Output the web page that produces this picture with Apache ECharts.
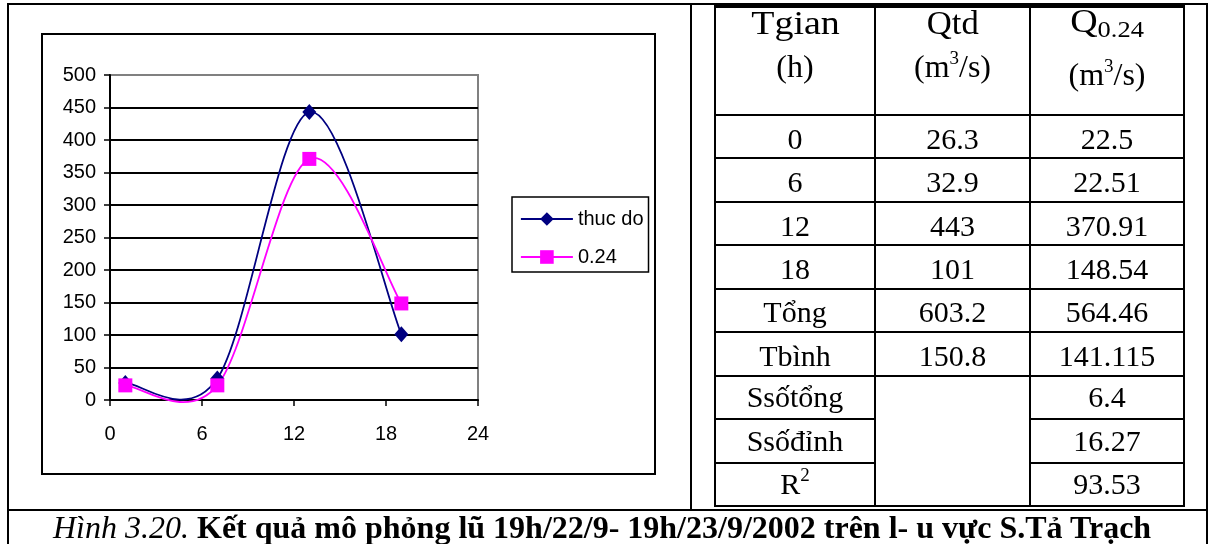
<!DOCTYPE html>
<html>
<head>
<meta charset="utf-8">
<script src="https://cdn.jsdelivr.net/npm/echarts@6/dist/echarts.min.js"></script>
<style>
  html, body { margin: 0; padding: 0; background: #fff; }
  #page { position: relative; width: 1208px; height: 544px; overflow: hidden; }
  #chart { position: absolute; left: 0; top: 0; width: 1208px; height: 544px; }
  .rule { position: absolute; background: #000; }
  .cell { position: absolute; display: flex; align-items: center; justify-content: center;
          font-family: 'Liberation Serif', 'Times New Roman', serif; font-size: 30px; color: #000; line-height: 1; white-space: nowrap; }
  .hline { position: absolute; left: 0; width: 100%; text-align: center; font-family: 'Liberation Serif', 'Times New Roman', serif;
           line-height: 30px; white-space: nowrap; }
  .hline > span { display: inline-block; transform-origin: 50% 50%; }
  .sup { font-size: 19px; position: relative; top: -13px; }
  .sub { font-size: 23px; position: relative; top: 5px; }
  #caption { position: absolute; left: 53px; top: 510px; height: 34px; line-height: 34px; white-space: nowrap;
             font-family: 'Liberation Serif', 'Times New Roman', serif; font-size: 32px; color: #000; }
  #caption i { font-style: italic; font-weight: normal; }
  #caption b { font-weight: bold; }
</style>
</head>
<body>
<div id="page">
  <div id="chart"></div>
  <div id="frame"></div>
  <div id="table"></div>
  <div id="caption"><i>Hình 3.20.</i> <b>Kết quả mô phỏng lũ 19h/22/9- 19h/23/9/2002 trên l- u vực S.Tả Trạch</b></div>
</div>
<script>
// Flood hydrograph: measured discharge vs simulated (coefficient 0.24)
const tableHours = ['0', '6', '12', '18'];
const plotHours = [1, 7, 13, 19];
const thucDo = [26.3, 32.9, 443, 101];
const q024 = [22.5, 22.51, 370.91, 148.54];
const seriesNames = ['thuc do', '0.24'];
const xTicks = [0, 6, 12, 18, 24];
const yMax = 500;
const yStep = 50;

// Summary rows of the table
const sumRow = ['Tổng', '603.2', '564.46'];
const meanRow = ['Tbình', '150.8', '141.115'];
const errTotal = ['Ssốtổng', '6.4'];
const errPeak = ['Ssốđỉnh', '16.27'];
const r2Row = ['R<span class="sup">2</span>', '93.53'];

const NAVY = '#000080';
const MAGENTA = '#ff00ff';
const SANS = "'Liberation Sans', Arial, sans-serif";

// ---------- frame lines of the figure ----------
const frame = document.getElementById('frame');
function rule(parent, x, y, w, h) {
  const d = document.createElement('div');
  d.className = 'rule';
  d.style.left = x + 'px'; d.style.top = y + 'px';
  d.style.width = w + 'px'; d.style.height = h + 'px';
  parent.appendChild(d);
}
rule(frame, 7, 3, 2, 541);       // left edge
rule(frame, 7, 3, 1201, 2);      // top edge
rule(frame, 1206, 3, 2, 541);    // right edge
rule(frame, 690, 3, 2, 507);     // divider between chart and table
rule(frame, 7, 508.5, 1201, 2);  // caption separator

// ---------- table ----------
const table = document.getElementById('table');
const colX = [715, 875, 1030, 1184];
const rowY = [6, 115];
for (let i = 1; i <= 9; i++) rowY.push(115 + i * (506 - 115) / 9);

// vertical lines
colX.forEach(x => rule(table, x - 1, rowY[0], 2, rowY[rowY.length - 1] - rowY[0] + 1));
// horizontal lines; middle column is merged over the last three rows
rowY.forEach((y, r) => {
  const th = r === 0 ? 3 : 2;
  if (r === 8 || r === 9) {
    rule(table, colX[0] - 1, y - 1, colX[1] - colX[0] + 2, th);
    rule(table, colX[2] - 1, y - 1, colX[3] - colX[2] + 2, th);
  } else {
    rule(table, colX[0] - 1, y - 1, colX[3] - colX[0] + 2, th);
  }
});

function cell(c, r, html, dy) {
  const d = document.createElement('div');
  d.className = 'cell';
  d.style.left = colX[c] + 'px';
  d.style.width = (colX[c + 1] - colX[c]) + 'px';
  d.style.top = (rowY[r] + (dy || 0)) + 'px';
  d.style.height = (rowY[r + 1] - rowY[r]) + 'px';
  d.innerHTML = '<span>' + html + '</span>';
  table.appendChild(d);
}
// header cell: two centred lines [text, top, font size, horizontal stretch]
function headerCell(c, lines) {
  const box = document.createElement('div');
  box.style.position = 'absolute';
  box.style.left = colX[c] + 'px';
  box.style.width = (colX[c + 1] - colX[c]) + 'px';
  box.style.top = '0px';
  box.style.height = '115px';
  lines.forEach(([txt, top, size, sx]) => {
    const l = document.createElement('div');
    l.className = 'hline';
    l.style.top = top + 'px';
    l.style.fontSize = size + 'px';
    l.innerHTML = '<span style="transform: scaleX(' + sx + ')">' + txt + '</span>';
    box.appendChild(l);
  });
  table.appendChild(box);
}
headerCell(0, [['Tgian', 8, 33, 1.15], ['(h)', 51, 32, 1]]);
headerCell(1, [['Qtd', 8, 33, 1.05], ['(m<span class="sup">3</span>/s)', 51, 32, 1]]);
headerCell(2, [['Q<span class="sub">0.24</span>', 6, 33, 1.15], ['(m<span class="sup">3</span>/s)', 59, 32, 1]]);

tableHours.forEach((h, i) => {
  cell(0, i + 1, h, 2);
  cell(1, i + 1, String(thucDo[i]), 2);
  cell(2, i + 1, String(q024[i]), 2);
});
[sumRow, meanRow].forEach((row, k) => {
  row.forEach((txt, c) => cell(c, 5 + k, txt, 2));
});
[errTotal, errPeak, r2Row].forEach((row, k) => {
  cell(0, 7 + k, row[0], 0);
  cell(2, 7 + k, row[1], 0);
});

// ---------- chart ----------
const chart = echarts.init(document.getElementById('chart'), null, { renderer: 'canvas' });

const pairs = ys => plotHours.map((x, i) => [x, ys[i]]);

// Smoothed curve through the points (cardinal spline, tangent = neighbour span / 6)
function smoothCurve(ys, color) {
  return function (params, api) {
    const i = params.dataIndex;
    if (i === 0) return { type: 'group', children: [] };
    const n = plotHours.length;
    const pt = k => {
      k = Math.max(0, Math.min(n - 1, k));
      return api.coord([plotHours[k], ys[k]]);
    };
    const a = pt(i - 2), b = pt(i - 1), c = pt(i), d = pt(i + 1);
    return {
      type: 'bezierCurve',
      shape: {
        x1: b[0], y1: b[1], x2: c[0], y2: c[1],
        cpx1: b[0] + (c[0] - a[0]) / 6, cpy1: b[1] + (c[1] - a[1]) / 6,
        cpx2: c[0] - (d[0] - b[0]) / 6, cpy2: c[1] - (d[1] - b[1]) / 6
      },
      style: { stroke: color, lineWidth: 1.8, fill: 'none' }
    };
  };
}

const gridLineColors = [];
for (let v = 0; v <= yMax; v += yStep) gridLineColors.push(v === yMax ? '#808080' : '#000');

chart.setOption({
  animation: false,
  backgroundColor: 'transparent',
  graphic: [{
    type: 'rect',
    shape: { x: 42, y: 34, width: 613, height: 440 },
    style: { fill: 'none', stroke: '#000', lineWidth: 2 },
    z: 0
  }],
  grid: {
    left: 110, top: 75, width: 368, height: 325,
    show: true, borderColor: '#808080', borderWidth: 2, backgroundColor: 'transparent'
  },
  legend: {
    data: seriesNames,
    orient: 'vertical',
    left: 512, top: 197,
    itemWidth: 52, itemHeight: 17, itemGap: 18,
    padding: [12, 5, 5, 8],
    borderColor: '#000', borderWidth: 1.5,
    selectedMode: false,
    lineStyle: { opacity: 1, width: 1.8 },
    textStyle: { fontFamily: SANS, fontSize: 20, color: '#000' }
  },
  xAxis: {
    type: 'value', min: xTicks[0], max: xTicks[xTicks.length - 1], interval: xTicks[1] - xTicks[0],
    axisLine: { lineStyle: { color: '#000', width: 2 } },
    axisTick: { show: true, length: 6, lineStyle: { color: '#000', width: 1.5 } },
    axisLabel: { margin: 24, fontFamily: SANS, fontSize: 20, color: '#000' },
    splitLine: { show: false }
  },
  yAxis: {
    type: 'value', min: 0, max: yMax, interval: yStep,
    axisLine: { show: true, lineStyle: { color: '#000', width: 2 } },
    axisTick: { show: true, length: 6, lineStyle: { color: '#000', width: 1.5 } },
    axisLabel: { margin: 14, fontFamily: SANS, fontSize: 20, color: '#000' },
    splitLine: { show: true, lineStyle: { color: gridLineColors, width: 2 } }
  },
  series: [
    {
      name: seriesNames[0], type: 'line', data: pairs(thucDo),
      symbol: 'diamond', symbolSize: [14, 16], showSymbol: true,
      itemStyle: { color: NAVY }, lineStyle: { color: NAVY, opacity: 0 },
      clip: false, silent: true, z: 5
    },
    {
      name: seriesNames[1], type: 'line', data: pairs(q024),
      symbol: 'rect', symbolSize: 14, showSymbol: true,
      itemStyle: { color: MAGENTA }, lineStyle: { color: MAGENTA, opacity: 0 },
      clip: false, silent: true, z: 6
    },
    {
      name: 'thucDoCurve', type: 'custom', data: pairs(thucDo),
      encode: { x: 0, y: 1 }, renderItem: smoothCurve(thucDo, NAVY),
      clip: false, silent: true, z: 3
    },
    {
      name: 'q024Curve', type: 'custom', data: pairs(q024),
      encode: { x: 0, y: 1 }, renderItem: smoothCurve(q024, MAGENTA),
      clip: false, silent: true, z: 4
    }
  ]
});
</script>
</body>
</html>
